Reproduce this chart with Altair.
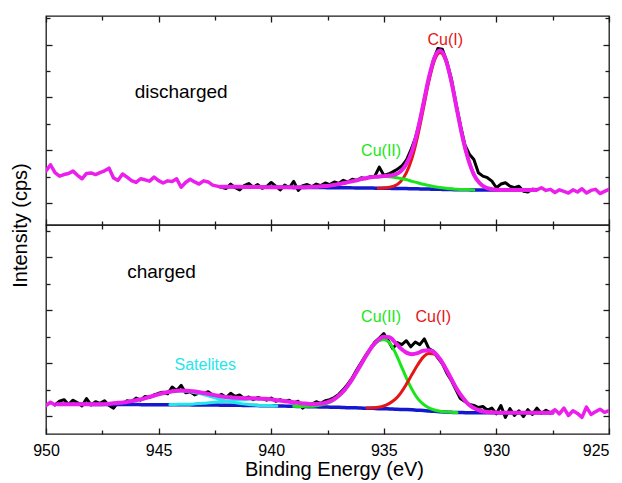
import altair as alt
import pandas as pd

FONT = "Liberation Sans"
MAGENTA = "#EB1EEB"
RED = "#E61414"
GREEN = "#19E619"
BLUE = "#1419CD"
CYAN = "#23E6EB"
BLACK = "#000000"
FRAME = "#1a1a1a"

# axis ticks
X_MAJOR = [950, 945, 940, 935, 930, 925]
X_MINOR = [947.5, 942.5, 937.5, 932.5, 927.5]
Y_MAJOR = [0, 2, 4, 6]
Y_MINOR = [1, 3, 5, 7]
TOP_YDOMAIN = [-0.83, 7.08]
BOT_YDOMAIN = [-0.68, 7.23]

# ---------------- discharged (top) ----------------
# raw spectrum, 950.0 -> 925.0 eV, 0.2 eV steps
top_raw = [
    1.21, 1.45, 1.15, 1.02, 1.08, 1.12, 1.21, 1.05, 0.92, 1.12,
    1.14, 1.08, 1.15, 1.22, 1.32, 0.95, 0.86, 1.10, 0.98, 0.85,
    0.78, 0.92, 0.88, 0.83, 0.98, 0.85, 0.76, 0.84, 0.82, 0.92,
    0.60, 0.78, 0.90, 0.80, 0.72, 0.84, 0.80, 0.68, 0.64, 0.60,
    0.55, 0.72, 0.58, 0.50, 0.66, 0.74, 0.60, 0.70, 0.56, 0.62,
    0.78, 0.64, 0.50, 0.68, 0.58, 0.82, 0.48, 0.66, 0.70, 0.62,
    0.72, 0.66, 0.76, 0.70, 0.80, 0.74, 0.86, 0.80, 0.90, 0.86,
    0.96, 0.92, 1.00, 1.02, 1.36, 1.05, 1.10, 1.18, 1.28, 1.40,
    1.62, 2.00, 2.45, 3.10, 3.95, 4.70, 5.40, 5.85, 5.82, 5.35,
    4.70, 3.80, 2.95, 2.20, 1.85, 1.65, 1.15, 1.02, 0.96, 0.83,
    0.58, 0.72, 0.77, 0.64, 0.58, 0.64, 0.45, 0.42, 0.52,
    0.50, 0.58, 0.48, 0.52, 0.40, 0.50, 0.44, 0.38, 0.50, 0.42,
    0.54, 0.38, 0.48, 0.52, 0.36, 0.44, 0.52,
]
TOP_WINDOW = (928.4, 942.2)

# fit curves, 942.25 -> 928.25 eV, 0.25 eV steps
TOP_FIT_START = 942.25
top_envelope = [
    0.62, 0.62, 0.62, 0.62, 0.61, 0.61, 0.61, 0.61, 0.60, 0.60, 0.60, 0.60, 0.60,
    0.59, 0.60, 0.60, 0.61, 0.62, 0.64, 0.65, 0.68, 0.72, 0.76, 0.81, 0.85,
    0.91, 0.95, 0.99, 1.00, 1.02, 1.04, 1.08, 1.20, 1.48, 1.97, 2.74, 3.72,
    4.74, 5.50, 5.77, 5.44, 4.61, 3.53, 2.48, 1.66, 1.08, 0.76, 0.60, 0.53,
    0.50, 0.49, 0.49, 0.49, 0.49, 0.49, 0.49, 0.49,
]
top_baseline = [
    0.62, 0.62, 0.62, 0.62, 0.61, 0.61, 0.61, 0.61, 0.60, 0.60, 0.60, 0.60, 0.60,
    0.59, 0.59, 0.59, 0.59, 0.59, 0.59, 0.58, 0.58, 0.58, 0.58, 0.58, 0.57,
    0.57, 0.57, 0.57, 0.56, 0.56, 0.56, 0.55, 0.55, 0.55, 0.54, 0.54, 0.53,
    0.53, 0.52, 0.52, 0.51, 0.51, 0.50, 0.50, 0.50, 0.49, 0.49, 0.49, 0.49,
    0.49, 0.49, 0.49, 0.49, 0.49, 0.49, 0.49, 0.49,
]
TOP_CU1_START = 935.25
top_cu1 = [
    0.56, 0.57, 0.60, 0.66, 0.82, 1.14, 1.69, 2.51, 3.54, 4.60, 5.40, 5.70,
    5.39, 4.58, 3.51, 2.47, 1.65, 1.08, 0.76, 0.60, 0.53, 0.50, 0.49,
]
TOP_CU2_START = 939.0
top_cu2 = [
    0.59, 0.60, 0.60, 0.61, 0.62, 0.64, 0.65, 0.68, 0.72, 0.76, 0.81, 0.85,
    0.91, 0.95, 0.99, 1.00, 1.01, 1.00, 0.97, 0.93, 0.89, 0.82, 0.77, 0.71,
    0.67, 0.62, 0.59, 0.56, 0.54, 0.52, 0.51, 0.51, 0.49,
]
top_labels = pd.DataFrame({
    "text": ["discharged", "Cu(I)", "Cu(II)"],
    "x": [944.0, 932.27, 935.12],
    "y": [4.22, 6.19, 1.97],
    "c": [BLACK, RED, GREEN],
    "s": [19, 16, 16],
})

# ---------------- charged (bottom) ----------------
bot_raw = [
    0.40, 0.52, 0.42, 0.56, 0.62, 0.44, 0.60, 0.50, 0.38, 0.66,
    0.42, 0.54, 0.48, 0.58, 0.40, 0.30, 0.52, 0.46, 0.58, 0.54,
    0.68, 0.60, 0.74, 0.70, 0.80, 0.86, 0.90, 0.84, 1.10, 0.96,
    1.16, 0.88, 0.92, 0.80, 0.88, 0.84, 0.92, 0.80, 0.74, 0.82,
    0.70, 0.86, 0.74, 0.80, 0.66, 0.72, 0.62, 0.70, 0.66, 0.60,
    0.68, 0.56, 0.62, 0.54, 0.60, 0.50, 0.56, 0.30, 0.48, 0.44,
    0.54, 0.48, 0.58, 0.62, 0.70, 0.82, 1.00, 1.20, 1.45, 1.75,
    2.02, 2.30, 2.55, 2.80, 2.95, 3.12, 2.85, 2.55, 2.78, 2.70,
    2.85, 2.62, 2.80, 2.70, 2.92, 2.55, 2.45, 2.20, 1.98, 1.62,
    1.35, 1.00, 0.66, 0.55, 0.44, 0.40, 0.32, 0.36, 0.22, 0.30,
    0.08, 0.40, -0.05, 0.28, 0.02, 0.20, -0.02, 0.24, 0.06, 0.30,
    0.10, 0.22, 0.12, 0.24, 0.08, 0.30, 0.02, 0.20, 0.10, -0.05,
    0.34, 0.06, 0.16, 0.26, 0.14, 0.20,
]
BOT_WINDOW = (927.6, 949.6)

BOT_FIT_START = 949.5
bot_envelope = [
    0.45, 0.45, 0.45, 0.45, 0.45, 0.45, 0.45, 0.45, 0.45, 0.46, 0.48, 0.50,
    0.52, 0.56, 0.60, 0.64, 0.70, 0.76, 0.82, 0.88, 0.92, 0.95, 0.97, 0.96,
    0.94, 0.91, 0.87, 0.83, 0.79, 0.75, 0.72, 0.70, 0.69, 0.68, 0.67, 0.67,
    0.65, 0.65, 0.63, 0.60, 0.58, 0.55, 0.52, 0.49, 0.47, 0.45, 0.46, 0.47,
    0.53, 0.62, 0.77, 0.98, 1.26, 1.61, 1.97, 2.33, 2.65, 2.88, 3.00, 2.98,
    2.79, 2.56, 2.40, 2.34, 2.38, 2.47, 2.49, 2.40, 2.15, 1.80, 1.40, 1.01,
    0.70, 0.45, 0.30, 0.21, 0.16, 0.14, 0.13, 0.12, 0.12, 0.12, 0.12, 0.12,
    0.12, 0.12, 0.12, 0.12, 0.12,
]
bot_baseline = [
    0.45, 0.45, 0.45, 0.45, 0.45, 0.45, 0.44, 0.44, 0.44, 0.44, 0.44, 0.44,
    0.44, 0.44, 0.44, 0.43, 0.43, 0.43, 0.43, 0.43, 0.43, 0.43, 0.43, 0.43,
    0.42, 0.42, 0.42, 0.42, 0.42, 0.41, 0.41, 0.41, 0.41, 0.40, 0.40, 0.40,
    0.39, 0.39, 0.39, 0.38, 0.38, 0.37, 0.37, 0.36, 0.36, 0.35, 0.35, 0.34,
    0.34, 0.33, 0.33, 0.32, 0.31, 0.31, 0.30, 0.29, 0.29, 0.28, 0.28, 0.27,
    0.26, 0.25, 0.25, 0.24, 0.22, 0.21, 0.19, 0.18, 0.16, 0.15, 0.14, 0.13,
    0.13, 0.12, 0.12, 0.12, 0.12, 0.12, 0.12, 0.12, 0.12, 0.12, 0.12, 0.12,
    0.12, 0.12, 0.12, 0.12, 0.12,
]
BOT_CU1_START = 935.75
bot_cu1 = [
    0.30, 0.31, 0.33, 0.38, 0.48, 0.63, 0.87, 1.20, 1.57, 1.93, 2.23, 2.37,
    2.35, 2.13, 1.79, 1.40, 1.01, 0.70, 0.45, 0.30, 0.21, 0.16, 0.14, 0.13,
]
BOT_CU2_START = 939.0
bot_cu2 = [
    0.37, 0.36, 0.37, 0.37, 0.39, 0.43, 0.49, 0.59, 0.76, 0.97, 1.26, 1.60,
    1.97, 2.32, 2.63, 2.83, 2.90, 2.77, 2.42, 1.94, 1.45, 1.01, 0.67, 0.45,
    0.31, 0.23, 0.18, 0.16, 0.14, 0.13,
]
BOT_SAT1_START = 948.5
bot_sat1 = [
    0.45, 0.45, 0.45, 0.45, 0.45, 0.46, 0.48, 0.50, 0.52, 0.56, 0.60, 0.64,
    0.70, 0.76, 0.82, 0.87, 0.91, 0.94, 0.95, 0.94, 0.90, 0.86, 0.81, 0.75,
    0.69, 0.62, 0.57, 0.53, 0.49, 0.46, 0.44, 0.42, 0.40, 0.40, 0.40, 0.38,
]
BOT_SAT2_START = 944.5
bot_sat2 = [
    0.44, 0.44, 0.45, 0.45, 0.45, 0.47, 0.48, 0.50, 0.52, 0.54, 0.56, 0.59,
    0.61, 0.62, 0.64, 0.65, 0.64, 0.64, 0.63, 0.60, 0.58, 0.55, 0.52,
]
bot_labels = pd.DataFrame({
    "text": ["charged", "Cu(II)", "Cu(I)", "Satelites"],
    "x": [944.87, 935.12, 932.8, 942.93],
    "y": [5.47, 3.73, 3.73, 1.95],
    "c": [BLACK, GREEN, RED, CYAN],
    "s": [19, 16, 16, 16],
})

W, H = 563, 209


def curve(start, step, values):
    return pd.DataFrame({
        "x": [round(start + step * i, 3) for i in range(len(values))],
        "y": values,
    })


def split_raw(values, window):
    lo, hi = window
    df = curve(950.0, -0.2, values)
    black = df[(df.x <= hi + 1e-6) & (df.x >= lo - 1e-6)]
    left = df[df.x >= hi - 1e-6].assign(seg="left")
    right = df[df.x <= lo + 1e-6].assign(seg="right")
    return black, pd.concat([left, right], ignore_index=True)


def ax(orient, values, size, **kw):
    return alt.Axis(orient=orient, values=values, tickSize=size, offset=-size,
                    domain=False, grid=False, ticks=True, tickColor=FRAME,
                    tickWidth=1.3, **kw)


def xenc(axis, title=None):
    return alt.X("x:Q", scale=alt.Scale(domain=[925, 950], reverse=True, nice=False, zero=False),
                 axis=axis, title=title)


def yenc(axis, ydom, title=None):
    return alt.Y("y:Q", scale=alt.Scale(domain=ydom, nice=False, zero=False),
                 axis=axis, title=title)


def line(df, color, width, xaxis, yaxis, ydom, detail=False, interp="linear"):
    enc = dict(x=xaxis if isinstance(xaxis, alt.X) else xenc(xaxis),
               y=yaxis if isinstance(yaxis, alt.Y) else yenc(yaxis, ydom))
    if detail:
        enc["detail"] = "seg:N"
    return alt.Chart(df).mark_line(color=color, strokeWidth=width, interpolate=interp,
                                   strokeJoin="round", strokeCap="round", clip=True).encode(**enc)


def panel(raw, window, fit_start, env, base, comps, labels, ydom, bottom):
    black, magenta_raw = split_raw(raw, window)
    # axes carried by the first four layers
    if bottom:
        xa_major = xenc(ax("bottom", X_MAJOR, 6, labels=True, labelPadding=8,
                           labelFlush=False,
                           labelAlign={"condition": {"test": "datum.value <= 925", "value": "right"},
                                       "value": "center"},
                           labelFontSize=16, labelFont=FONT,
                           labelColor=BLACK, titleFontSize=20, titleFont=FONT,
                           titleFontWeight="normal", titleColor=BLACK,
                           titlePadding=1, titleX=288),
                        title="Binding Energy (eV)")
        ya_major = yenc(ax("left", Y_MAJOR, 6, labels=False, titleFontSize=20,
                           titleFont=FONT, titleFontWeight="normal", titleColor=BLACK,
                           titleY=0, titlePadding=15),
                        ydom, title="Intensity (cps)")
    else:
        xa_major = xenc(ax("bottom", X_MAJOR, 6, labels=False))
        ya_major = yenc(ax("left", Y_MAJOR, 6, labels=False), ydom)
    layers = [
        line(black, BLACK, 3, xa_major, ya_major, ydom),
        line(magenta_raw, MAGENTA, 3.5, ax("bottom", X_MINOR, 4, labels=False),
             ax("left", Y_MINOR, 4, labels=False), ydom, detail=True),
        line(curve(fit_start, -0.25, base), BLUE, 3.5, ax("top", X_MAJOR, 6, labels=False),
             ax("right", Y_MAJOR, 6, labels=False), ydom, interp="monotone"),
    ]
    for i, (start, vals, color) in enumerate(comps):
        if i == 0:
            xa, ya = ax("top", X_MINOR, 4, labels=False), ax("right", Y_MINOR, 4, labels=False)
        else:
            xa, ya = None, None
        layers.append(line(curve(start, -0.25, vals), color, 3, xa, ya, ydom, interp="monotone"))
    layers.append(line(curve(fit_start, -0.25, env), MAGENTA, 4, None, None, ydom, interp="monotone"))
    layers.append(
        alt.Chart(labels).mark_text(font=FONT, baseline="middle", align="center").encode(
            x=xenc(None), y=yenc(None, ydom),
            text="text:N",
            color=alt.Color("c:N", scale=None),
            size=alt.Size("s:Q", scale=None),
        )
    )
    return alt.layer(*layers).resolve_axis(x="independent", y="independent").properties(
        width=W, height=H)


top = panel(top_raw, TOP_WINDOW, TOP_FIT_START, top_envelope, top_baseline,
            [(TOP_CU1_START, top_cu1, RED), (TOP_CU2_START, top_cu2, GREEN)],
            top_labels, TOP_YDOMAIN, bottom=False)
bot = panel(bot_raw, BOT_WINDOW, BOT_FIT_START, bot_envelope, bot_baseline,
            [(BOT_SAT1_START, bot_sat1, CYAN), (BOT_SAT2_START, bot_sat2, CYAN),
             (BOT_CU2_START, bot_cu2, GREEN), (BOT_CU1_START, bot_cu1, RED)],
            bot_labels, BOT_YDOMAIN, bottom=True)

chart = alt.vconcat(top, bot, spacing=0).properties(
    bounds="flush",
    padding={"left": 1, "top": 6, "right": 0, "bottom": 0},
).configure_view(stroke=FRAME, strokeWidth=1.3)

chart.save("out.html", embed_options={"renderer": "svg", "actions": False})
